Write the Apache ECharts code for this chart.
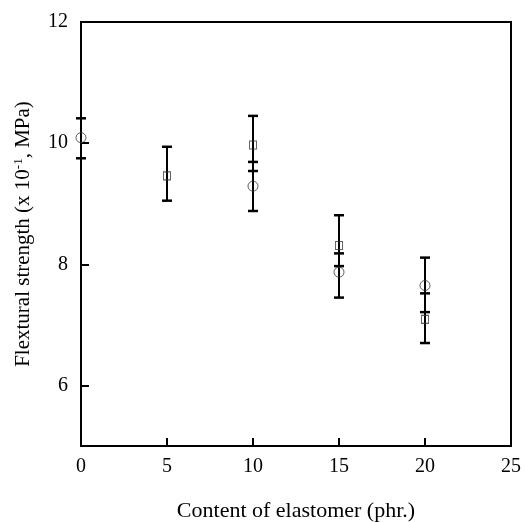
<!DOCTYPE html>
<html>
<head>
<meta charset="utf-8">
<script src="https://cdn.jsdelivr.net/npm/echarts@6/dist/echarts.min.js"></script>
<style>
  html, body { margin: 0; padding: 0; background: #fff; }
  #chart { width: 526px; height: 522px; }
</style>
</head>
<body>
<div id="chart"></div>
<script>
// square markers
var sqX = [5, 10, 15, 20];
var sqVal = [9.46, 9.97, 8.31, 7.09];
var sqLow = [9.05, 9.54, 7.97, 6.70];
var sqHigh = [9.94, 10.45, 8.81, 7.52];

// circle markers
var ciX = [0, 10, 15, 20];
var ciVal = [10.09, 9.29, 7.87, 7.65];
var ciLow = [9.75, 8.88, 7.45, 7.21];
var ciHigh = [10.41, 9.69, 8.18, 8.11];

var yTicks = [6, 8, 10, 12];
var xTicks = [0, 5, 10, 15, 20, 25];
var font = 'Liberation Serif';

var chart = echarts.init(document.getElementById('chart'));

function errBar(params, api) {
  var x = api.value(0);
  var lo = api.coord([x, api.value(1)]);
  var hi = api.coord([x, api.value(2)]);
  var w = 5;
  var st = { stroke: '#000', lineWidth: 2.5 };
  return {
    type: 'group',
    children: [
      { type: 'line', shape: { x1: lo[0], y1: lo[1], x2: hi[0], y2: hi[1] }, style: { stroke: '#000', lineWidth: 2 } },
      { type: 'line', shape: { x1: lo[0] - w, y1: lo[1], x2: lo[0] + w, y2: lo[1] }, style: st },
      { type: 'line', shape: { x1: hi[0] - w, y1: hi[1], x2: hi[0] + w, y2: hi[1] }, style: st }
    ]
  };
}

function pairs(xs, a, b) {
  return xs.map(function (x, i) { return b ? [x, a[i], b[i]] : [x, a[i]]; });
}

var option = {
  animation: false,
  grid: {
    left: 81, right: 15, top: 22, bottom: 76,
    outerBoundsMode: 'none',
    show: true, borderColor: '#000', borderWidth: 2
  },
  xAxis: {
    type: 'value',
    min: 0, max: 25, interval: 5,
    name: 'Content of elastomer (phr.)',
    nameLocation: 'middle',
    nameGap: 54,
    nameTextStyle: { fontFamily: font, fontSize: 22, color: '#000' },
    axisLine: { lineStyle: { color: '#000', width: 2 } },
    axisTick: { show: true, inside: true, length: 8, customValues: xTicks, lineStyle: { color: '#000', width: 2 } },
    axisLabel: { fontFamily: font, fontSize: 20, color: '#000', margin: 11 },
    splitLine: { show: false }
  },
  yAxis: {
    type: 'value',
    min: 5, max: 12, interval: 1,
    name: 'Flextural strength (x 10{sup|-1}, MPa)',
    nameLocation: 'middle',
    nameGap: 47,
    nameTextStyle: {
      fontFamily: font, fontSize: 21, color: '#000',
      rich: { sup: { fontFamily: font, fontSize: 13, color: '#000', verticalAlign: 'top', padding: [0, 0, 9, 0] } }
    },
    axisLine: { lineStyle: { color: '#000', width: 2 } },
    axisTick: { show: true, inside: true, length: 8, customValues: yTicks, lineStyle: { color: '#000', width: 2 } },
    axisLabel: { fontFamily: font, fontSize: 20, color: '#000', margin: 13, customValues: yTicks },
    splitLine: { show: false }
  },
  series: [
    {
      type: 'custom', name: 'sq err', z: 1,
      renderItem: errBar,
      encode: { x: 0, y: [1, 2] },
      data: pairs(sqX, sqLow, sqHigh)
    },
    {
      type: 'custom', name: 'ci err', z: 1,
      renderItem: errBar,
      encode: { x: 0, y: [1, 2] },
      data: pairs(ciX, ciLow, ciHigh)
    },
    {
      type: 'scatter', name: 'square', z: 3,
      symbol: 'rect', symbolSize: [7, 8],
      itemStyle: { color: 'rgba(255,255,255,0)', borderColor: '#333', borderWidth: 1 },
      data: pairs(sqX, sqVal)
    },
    {
      type: 'scatter', name: 'circle', z: 3,
      symbol: 'circle', symbolSize: 10,
      itemStyle: { color: 'rgba(255,255,255,0)', borderColor: '#333', borderWidth: 1 },
      data: pairs(ciX, ciVal)
    }
  ]
};

chart.setOption(option);
</script>
</body>
</html>
